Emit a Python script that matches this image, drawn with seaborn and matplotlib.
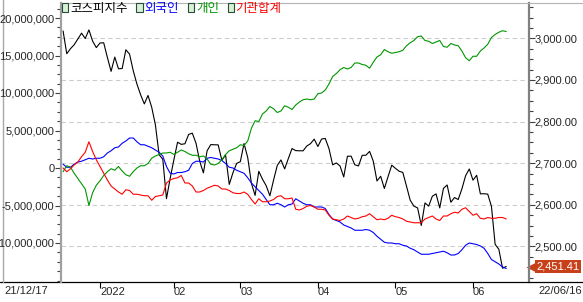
import numpy as np
import pandas as pd
import matplotlib
matplotlib.use('Agg')
import matplotlib.pyplot as plt
import matplotlib.ticker as mtick
import matplotlib.transforms as mtrans
from matplotlib import font_manager
from matplotlib.patches import Patch
from matplotlib.lines import Line2D
import seaborn as sns

# Trading days (KRX) 2021-12-17 .. 2022-06-16
holidays = ['2021-12-31', '2022-01-31', '2022-02-01', '2022-02-02', '2022-03-01',
            '2022-03-09', '2022-05-05', '2022-06-01', '2022-06-06']
dates = pd.bdate_range('2021-12-17', '2022-06-16').drop(pd.to_datetime(holidays))

# KOSPI close (right axis)
kospi = [3017.73, 2963.00, 2975.03, 2984.48, 2998.32, 3012.43, 2999.55, 3020.24, 2993.29, 2977.65,
         2988.77, 2989.24, 2953.97, 2920.53, 2954.89, 2926.72, 2927.38, 2972.48, 2962.09, 2921.92,
         2890.10, 2864.24, 2842.28, 2862.68, 2834.29, 2792.00, 2720.39, 2709.24, 2614.49, 2663.34,
         2707.82, 2750.26, 2745.06, 2746.47, 2768.85, 2771.93, 2747.71, 2704.48, 2676.54, 2729.68,
         2744.52, 2744.09, 2743.80, 2706.79, 2719.53, 2648.80, 2676.76, 2699.18,
         2703.52, 2747.08, 2713.43, 2651.31, 2622.40, 2680.32, 2661.28, 2645.65, 2621.53, 2659.23,
         2694.51, 2707.64, 2686.05, 2711.00, 2735.07, 2729.98, 2729.66, 2729.56, 2741.07, 2746.74, 2757.65,
         2739.85, 2757.90, 2759.20, 2735.03, 2695.86, 2700.39, 2693.10, 2666.76, 2716.49, 2716.71,
         2696.06, 2693.21, 2718.69, 2718.89, 2728.21, 2704.71, 2657.13, 2668.31, 2639.06, 2667.49, 2695.05,
         2687.45, 2680.46, 2677.57, 2644.51, 2610.81, 2596.56, 2592.27, 2550.08, 2604.24, 2596.58,
         2620.44, 2625.98, 2592.34, 2639.29, 2647.38, 2605.87, 2617.22, 2612.45, 2638.05, 2669.66, 2685.90,
         2658.99, 2670.65, 2626.15, 2626.34, 2625.44, 2595.87, 2504.51, 2492.97, 2447.38, 2451.41]

# cumulative net buying, in millions (left axis)
foreign = [0.5, 0.1, 0.1, 0.5, 0.8, 0.9, 1.1, 1.3, 1.2, 1.3,
           1.3, 1.5, 2.0, 2.3, 2.7, 2.8, 3.3, 3.6, 4.0, 4.0,
           3.5, 3.1, 3.1, 2.9, 2.7, 2.4, 2.1, 1.6, 0.2, -0.7,
           -0.8, -0.6, -0.6, -0.5, -0.3, 0.6, 0.9, 0.9, 0.8, 1.3,
           1.4, 1.3, 1.2, 1.0, 0.6, 0.1, 0.0, -0.3, -0.5, -0.7,
           -1.3, -2.0, -2.5, -3.0, -3.5, -4.2, -4.9, -4.9, -4.7, -4.9,
           -5.2, -4.9, -4.8, -4.1, -4.4, -4.7, -4.9, -4.9, -5.2, -5.2,
           -5.2, -5.4, -6.2, -6.8, -7.0, -7.2, -7.6, -7.8, -8.0, -8.3,
           -8.3, -8.3, -8.2, -8.3, -8.6, -9.1, -9.5, -9.9, -10.0, -10.0,
           -10.1, -10.1, -10.3, -10.4, -10.7, -10.9, -11.2, -11.5, -11.5, -11.5,
           -11.4, -11.3, -11.2, -11.1, -11.3, -11.6, -11.6, -11.4, -10.9, -10.3,
           -10.0, -10.1, -10.2, -10.4, -10.7, -11.4, -12.2, -12.5, -12.8, -13.2, -13.4]
individual = [-0.5, 0.3, 0.1, -0.7, -1.4, -2.1, -2.8, -5.0, -3.3, -2.3,
              -1.7, -1.0, -0.5, -0.1, -0.3, 0.2, -0.4, -0.9, -1.1, -0.5,
              0.0, 0.3, 0.3, 0.6, 1.3, 1.6, 1.8, 2.0, 2.0, 2.1,
              1.8, 2.1, 2.4, 2.2, 1.9, 1.7, 1.7, 1.5, 1.6, 1.2,
              0.5, 0.4, 0.6, 1.1, 1.8, 2.3, 2.5, 2.7, 3.1, 3.0,
              3.6, 5.3, 6.3, 6.2, 7.2, 7.6, 8.2, 7.9, 7.4, 7.6,
              8.3, 8.1, 7.8, 8.4, 8.8, 9.1, 9.2, 9.1, 9.2, 9.9,
              10.0, 10.4, 11.2, 12.2, 12.6, 13.1, 13.4, 13.2, 13.4, 14.0,
              14.0, 13.8, 13.7, 13.3, 14.1, 14.8, 15.1, 15.8, 15.5, 15.3,
              15.4, 15.5, 15.7, 16.3, 16.7, 17.0, 17.5, 17.6, 17.0, 16.9,
              16.6, 16.8, 17.0, 16.2, 16.1, 16.6, 16.4, 16.3, 15.6, 14.7,
              14.3, 14.9, 14.9, 15.6, 16.0, 16.5, 17.4, 17.8, 18.1, 18.3, 18.2]
institution = [0.0, -0.5, -0.1, 0.4, 0.8, 1.5, 2.1, 3.5, 2.2, 1.1,
               0.2, -0.7, -1.6, -2.4, -2.8, -3.2, -3.5, -2.9, -3.0, -3.5,
               -3.5, -3.6, -3.7, -3.7, -4.3, -3.8, -3.7, -3.6, -2.0, -1.6,
               -1.4, -1.3, -1.0, -2.0, -2.0, -2.4, -3.2, -3.2, -3.0, -2.7,
               -2.5, -2.3, -2.4, -2.8, -2.8, -3.0, -3.3, -3.4, -3.4, -3.2,
               -3.5, -4.2, -4.8, -4.1, -4.5, -4.5, -4.4, -4.2, -3.8, -3.7,
               -4.1, -4.1, -4.0, -5.5, -5.6, -5.4, -5.1, -5.0, -5.2, -5.5,
               -5.5, -5.6, -6.3, -6.8, -6.9, -7.0, -6.8, -6.4, -6.6, -6.8,
               -6.7, -6.5, -6.4, -6.1, -6.5, -6.9, -6.8, -6.9, -6.7, -6.3,
               -6.5, -6.6, -6.8, -7.1, -7.2, -7.3, -7.3, -7.3, -6.8, -6.6,
               -6.4, -6.8, -7.0, -6.4, -6.4, -6.1, -5.9, -6.0, -5.5, -5.3,
               -5.8, -6.3, -6.1, -6.7, -6.8, -6.6, -6.7, -6.7, -6.6, -6.6, -6.8]

names = ['코스피지수', '외국인', '개인', '기관합계']
colors = ['black', '#0000ff', '#009600', '#ff0000']
month_labels = ['2022', '02', '03', '04', '05', '06']
left_ticks = [-10e6, -5e6, 0, 5e6, 10e6, 15e6, 20e6]

df = pd.DataFrame({'idx': np.arange(len(dates)), 'date': dates, 'kospi': kospi,
                   'foreign': np.array(foreign) * 1e6, 'individual': np.array(individual) * 1e6,
                   'institution': np.array(institution) * 1e6})
month_pos = df.groupby(df['date'].dt.to_period('M'))['idx'].min().values[1:]

sns.set_style('white')
try:
    font_manager.findfont('Liberation Sans Narrow', fallback_to_default=False)
    num_font, num_size = 'Liberation Sans Narrow', 10
except Exception:
    num_font, num_size = 'Liberation Sans', 8
plt.rcParams['font.family'] = [num_font, 'DejaVu Sans']
plt.rcParams['axes.unicode_minus'] = False

W, H = 583, 302
fig = plt.figure(figsize=(W / 100, H / 100), dpi=100, facecolor='white')
x0, x1, yb, yt = 60.6, 528.6, 282.0, 2.7
ax = fig.add_axes([x0 / W, (H - yb) / H, (x1 - x0) / W, (yb - yt) / H])
ax2 = ax.twinx()
ax.set_zorder(2)
ax2.set_zorder(1)
ax.patch.set_visible(False)

# KOSPI on right axis
sns.lineplot(data=df, x='idx', y='kospi', ax=ax2, color=colors[0], lw=0.8)
ax2.set_ylim(2414.2, 3085.6)
ax2.yaxis.set_major_locator(mtick.MultipleLocator(100))
ax2.yaxis.set_minor_locator(mtick.MultipleLocator(25))
ax2.yaxis.set_major_formatter(mtick.StrMethodFormatter('{x:,.2f}'))
ax2.grid(True, axis='y', color='#cccccc', lw=0.8, dashes=(4, 3))
ax2.set_ylabel('')

# investor flows on left axis
for col, c in zip(['foreign', 'individual', 'institution'], colors[1:]):
    sns.lineplot(data=df, x='idx', y=col, ax=ax, color=c, lw=0.8)
ax.set_ylim(-15.2e6, 22.04e6)
ax.set_xlim(-0.67, 126.06)
ax.yaxis.set_major_locator(mtick.FixedLocator(left_ticks))
ax.yaxis.set_minor_locator(mtick.MultipleLocator(1.25e6))
ax.yaxis.set_major_formatter(mtick.StrMethodFormatter('{x:,.0f}'))
ax.set_ylabel('')
ax.set_xlabel('')
ax2.set_xlabel('')

ax.set_xticks(month_pos)
ax.set_xticklabels(month_labels, ha='left')
ax.tick_params(axis='x', direction='out', length=4, width=0.8, color='black', pad=-0.5,
               labelsize=num_size, bottom=True)
ax.tick_params(axis='y', which='major', direction='out', length=4, width=0.8, color='#404040',
               pad=0.5, labelsize=num_size, left=True)
ax.tick_params(axis='y', which='minor', direction='out', length=3, width=0.8, color='#404040', left=True)
ax2.tick_params(axis='y', which='major', direction='out', length=4, width=0.8, color='#404040',
                pad=0.5, labelsize=num_size, right=True)
ax2.tick_params(axis='y', which='minor', direction='out', length=3, width=0.8, color='#404040', right=True)

for s in ['top', 'right', 'bottom', 'left']:
    ax.spines[s].set_visible(False)
    ax2.spines[s].set_visible(False)
ax.spines['left'].set_visible(True)
ax.spines['left'].set_color('#a0a0a0')
ax.spines['left'].set_linewidth(1.6)
ax2.spines['right'].set_visible(True)
ax2.spines['right'].set_color('#808080')
ax2.spines['right'].set_linewidth(1.6)
ax2.spines['top'].set_visible(True)
ax2.spines['top'].set_color('#b4b4b4')
ax2.spines['top'].set_linewidth(0.8)

# frame lines
fig.add_artist(Line2D([0, 1], [(H - yb) / H] * 2, color='black', lw=0.9, transform=fig.transFigure))
fig.add_artist(Line2D([x1 / W, 1], [(H - yt) / H] * 2, color='#b4b4b4', lw=0.8, transform=fig.transFigure))
fig.add_artist(Line2D([2.5 / W] * 2, [(H - yb) / H, 1], color='#a8a8a8', lw=1.0, transform=fig.transFigure))

# date range labels
fig.text(4 / W, (H - 286) / H, dates[0].strftime('%y/%m/%d'), ha='left', va='top', fontsize=num_size)
fig.text(582 / W, (H - 286) / H, dates[-1].strftime('%y/%m/%d'), ha='right', va='top', fontsize=num_size)

# legend
handles = [Patch(facecolor='#d6f2d0', edgecolor='#2a4a40', lw=0.8) for _ in names]
leg = ax.legend(handles, names, loc='upper left', bbox_to_anchor=(62 / W, 1 - 2 / H),
                bbox_transform=fig.transFigure, ncol=4, frameon=False,
                prop={'family': ['Noto Sans CJK KR', 'DejaVu Sans'], 'size': 9},
                handlelength=0.5, handleheight=0.8, handletextpad=0.15, columnspacing=0.7,
                borderpad=0, borderaxespad=0, labelcolor=colors)

# last value tag
last = kospi[-1]
ax2.annotate(f'{last:,.2f}', xy=(1, last), xycoords=('axes fraction', 'data'),
             xytext=(7.5, 0), textcoords='offset pixels', ha='left', va='center',
             color='white', fontsize=num_size, annotation_clip=False,
             bbox=dict(boxstyle='square,pad=0.12', fc='#c8401a', ec='none'))
tip = ax2.get_yaxis_transform() + mtrans.ScaledTranslation(0.035, 0, fig.dpi_scale_trans)
ax2.plot([1], [last], marker='<', markersize=9, color='#c8401a', mec='none',
         transform=tip, clip_on=False)

fig.savefig('out.png', dpi=100, facecolor='white')
